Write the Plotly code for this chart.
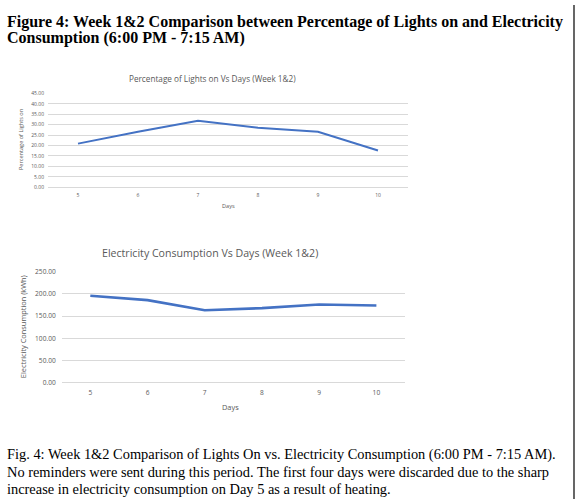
import plotly.graph_objects as go

days = ["5", "6", "7", "8", "9", "10"]
lights_pct = [20.9, 26.6, 31.9, 28.5, 26.6, 17.6]
consumption_kwh = [196, 186, 163, 168, 176, 174]

W, H = 579, 503
LINE = "#4472c4"
GRID = "#d9d9d9"
TXT = "#595959"


def px(x):
    return x / W


def py(y):
    return 1 - y / H


fig = go.Figure()
fig.add_trace(go.Scatter(x=days, y=lights_pct, mode="lines",
                         line=dict(color=LINE, width=2), xaxis="x", yaxis="y"))
fig.add_trace(go.Scatter(x=days, y=consumption_kwh, mode="lines",
                         line=dict(color=LINE, width=2.6), xaxis="x2", yaxis="y2"))

ann = []


def note(text, x, y, size, color=TXT, angle=0, family="Open Sans, Calibri, sans-serif",
         xanchor="center", yanchor="middle", bold=False):
    if bold:
        text = "<b>" + text + "</b>"
    ann.append(dict(text=text, x=px(x), y=py(y), xref="paper", yref="paper",
                    showarrow=False, textangle=angle, xanchor=xanchor, yanchor=yanchor,
                    font=dict(size=size, color=color, family=family)))


# page header
serif = "Liberation Serif, Times New Roman, serif"
note("Figure 4: Week 1&2 Comparison between Percentage of Lights on and Electricity",
     5, 6, 16, "#000", family=serif, xanchor="left", yanchor="top", bold=True)
note("Consumption (6:00 PM - 7:15 AM)", 5, 22, 16, "#000", family=serif,
     xanchor="left", yanchor="top", bold=True)

# chart titles and axis titles
note("Percentage of Lights on Vs Days (Week 1&2)", 212, 75, 8.2)
note("Percentage of Lights on", 21, 137.5, 5.6, angle=-90)
note("Days", 228, 205, 5.6)

note("Electricity Consumption Vs Days (Week 1&2)", 210, 253, 10.6)
note("Electricity Consumption (kWh)", 23, 328, 7.4, angle=-90)
note("Days", 231, 409, 7.4)

# caption
cap = [
    "Fig. 4: Week 1&2 Comparison of Lights On vs. Electricity Consumption (6:00 PM - 7:15 AM).",
    "No reminders were sent during this period. The first four days were discarded due to the sharp",
    "increase in electricity consumption on Day 5 as a result of heating.",
]
for i, line in enumerate(cap):
    note(line, 5, 458 + 17.6 * i, 14.4, "#000", family=serif, xanchor="left")

axfont1 = dict(size=5, color=TXT, family="Open Sans, Calibri, sans-serif")
axfont2 = dict(size=6.6, color=TXT, family="Open Sans, Calibri, sans-serif")

fig.update_layout(
    width=W, height=H,
    margin=dict(l=0, r=0, t=0, b=0),
    paper_bgcolor="white", plot_bgcolor="white",
    showlegend=False,
    annotations=ann,
    xaxis=dict(domain=[px(48), px(408)], anchor="y", type="category",
               range=[-0.5, 5.5], showgrid=False, showline=False, ticks="",
               tickfont=axfont1, ticklabelstandoff=4),
    yaxis=dict(domain=[py(185.5), py(90)], anchor="x", range=[0, 45], dtick=5,
               tickformat=".2f", gridcolor=GRID, gridwidth=0.8, zeroline=True,
               zerolinecolor=GRID, zerolinewidth=0.8, showline=False,
               tickfont=axfont1, ticklabelstandoff=3),
    xaxis2=dict(domain=[px(61.7), px(405)], anchor="y2", type="category",
                range=[-0.5, 5.5], showgrid=False, showline=False, ticks="",
                tickfont=axfont2, ticklabelstandoff=5),
    yaxis2=dict(domain=[py(384.3), py(271.7)], anchor="x2", range=[0, 250], dtick=50,
                tickformat=".2f", gridcolor=GRID, gridwidth=0.8, zeroline=True,
                zerolinecolor=GRID, zerolinewidth=0.8, showline=False,
                tickfont=axfont2, ticklabelstandoff=5),
    shapes=[dict(type="line", xref="paper", yref="paper", x0=px(574), x1=px(574),
                 y0=0, y1=1, line=dict(color="#000", width=1.2))],
)

# the page body has a default 8px margin; drop it so the figure fills the window
fig.write_html("out.html", config={"displayModeBar": False},
               post_script="document.body.style.margin='0';")
